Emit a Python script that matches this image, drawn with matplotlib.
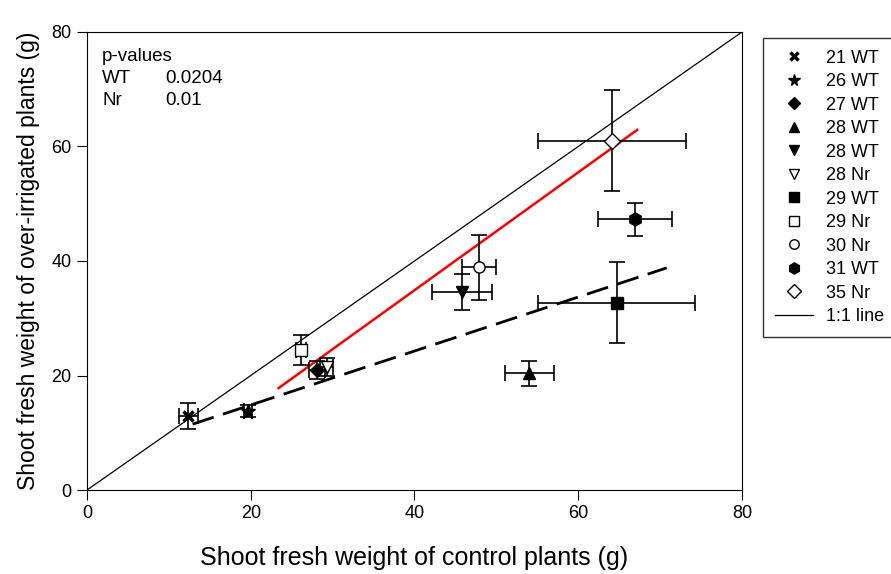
import matplotlib
matplotlib.use('Agg')
import matplotlib.pyplot as plt
from matplotlib.lines import Line2D

plt.rcParams['font.family'] = ['Liberation Sans', 'DejaVu Sans']

# data
labels = ['21 WT', '26 WT', '27 WT', '28 WT', '28 WT', '28 Nr',
          '29 WT', '29 Nr', '30 Nr', '31 WT', '35 Nr']
markers = ['x', '*', 'D', '^', 'v', 'v', 's', 's', 'o', 'h', 'D']
filled = [True, True, True, True, True, False, True, False, False, True, False]
ctrl = [12.4, 19.7, 28.1, 54.0, 45.8, 29.3, 64.7, 26.1, 47.9, 66.9, 64.1]
ctrl_err = [1.1, 0.5, 1.0, 3.0, 3.7, 0.8, 9.6, 0.6, 2.1, 4.5, 9.0]
over = [12.9, 13.8, 21.0, 20.4, 34.6, 21.5, 32.7, 24.4, 38.9, 47.3, 61.0]
over_err = [2.3, 1.0, 1.6, 2.2, 3.1, 1.5, 7.1, 2.6, 5.7, 2.9, 8.8]
sizes = [7, 10, 7, 8.5, 8.5, 8.5, 8.5, 8, 8, 9.5, 8]

# regression lines (end points)
wt_fit_x = [12.9, 70.8]
wt_fit_y = [11.5, 38.8]
nr_fit_x = [23.4, 67.2]
nr_fit_y = [17.8, 62.9]

fig = plt.figure(figsize=(8.91, 5.74), dpi=100)
ax = fig.add_axes([0.0976, 0.1463, 0.7352, 0.7980])

ax.plot([0, 80], [0, 80], color='black', lw=0.9, zorder=1)
ax.plot(nr_fit_x, nr_fit_y, color='red', lw=1.8, zorder=2)
ax.plot(wt_fit_x, wt_fit_y, color='black', lw=2, dashes=(8, 3.5), zorder=2)

handles = []
for i in range(len(labels)):
    fc = 'black' if filled[i] else 'white'
    mew = 2.5 if markers[i] == 'x' else 1
    ax.errorbar(ctrl[i], over[i], xerr=ctrl_err[i], yerr=over_err[i],
                fmt='none', ecolor='black', elinewidth=1.2, capsize=6,
                capthick=1.2, zorder=3)
    ax.plot(ctrl[i], over[i], marker=markers[i], ms=sizes[i], mfc=fc,
            mec='black', mew=mew, ls='none', zorder=4)
    handles.append(Line2D([], [], marker=markers[i], ms=sizes[i] * 0.85, mfc=fc,
                          mec='black', mew=mew, ls='none', label=labels[i]))
handles.append(Line2D([], [], color='black', lw=0.9, label='1:1 line'))

ax.set_xlim(0, 80)
ax.set_ylim(0, 80)
ax.set_xticks([0, 20, 40, 60, 80])
ax.set_yticks([0, 20, 40, 60, 80])
ax.tick_params(direction='out', length=7, labelsize=13, pad=4)
ax.set_xlabel('Shoot fresh weight of control plants (g)', fontsize=18, labelpad=17)
ax.set_ylabel('Shoot fresh weight of over-irrigated plants (g)', fontsize=16.5, labelpad=8)

ax.text(0.023, 0.964, 'p-values', transform=ax.transAxes, fontsize=13.5, va='top')
ax.text(0.023, 0.917, 'WT', transform=ax.transAxes, fontsize=13.5, va='top')
ax.text(0.023, 0.870, 'Nr', transform=ax.transAxes, fontsize=13.5, va='top')
ax.text(0.119, 0.917, '0.0204', transform=ax.transAxes, fontsize=13.5, va='top')
ax.text(0.119, 0.870, '0.01', transform=ax.transAxes, fontsize=13.5, va='top')

leg = ax.legend(handles=handles, loc='upper left', bbox_to_anchor=(1.032, 0.987),
                fontsize=13, frameon=True, fancybox=False, edgecolor='black',
                handlelength=2.1, labelspacing=0.36, borderpad=0.65,
                handletextpad=0.75, borderaxespad=0)
leg.get_frame().set_linewidth(1)

fig.savefig('out.png', dpi=100)
